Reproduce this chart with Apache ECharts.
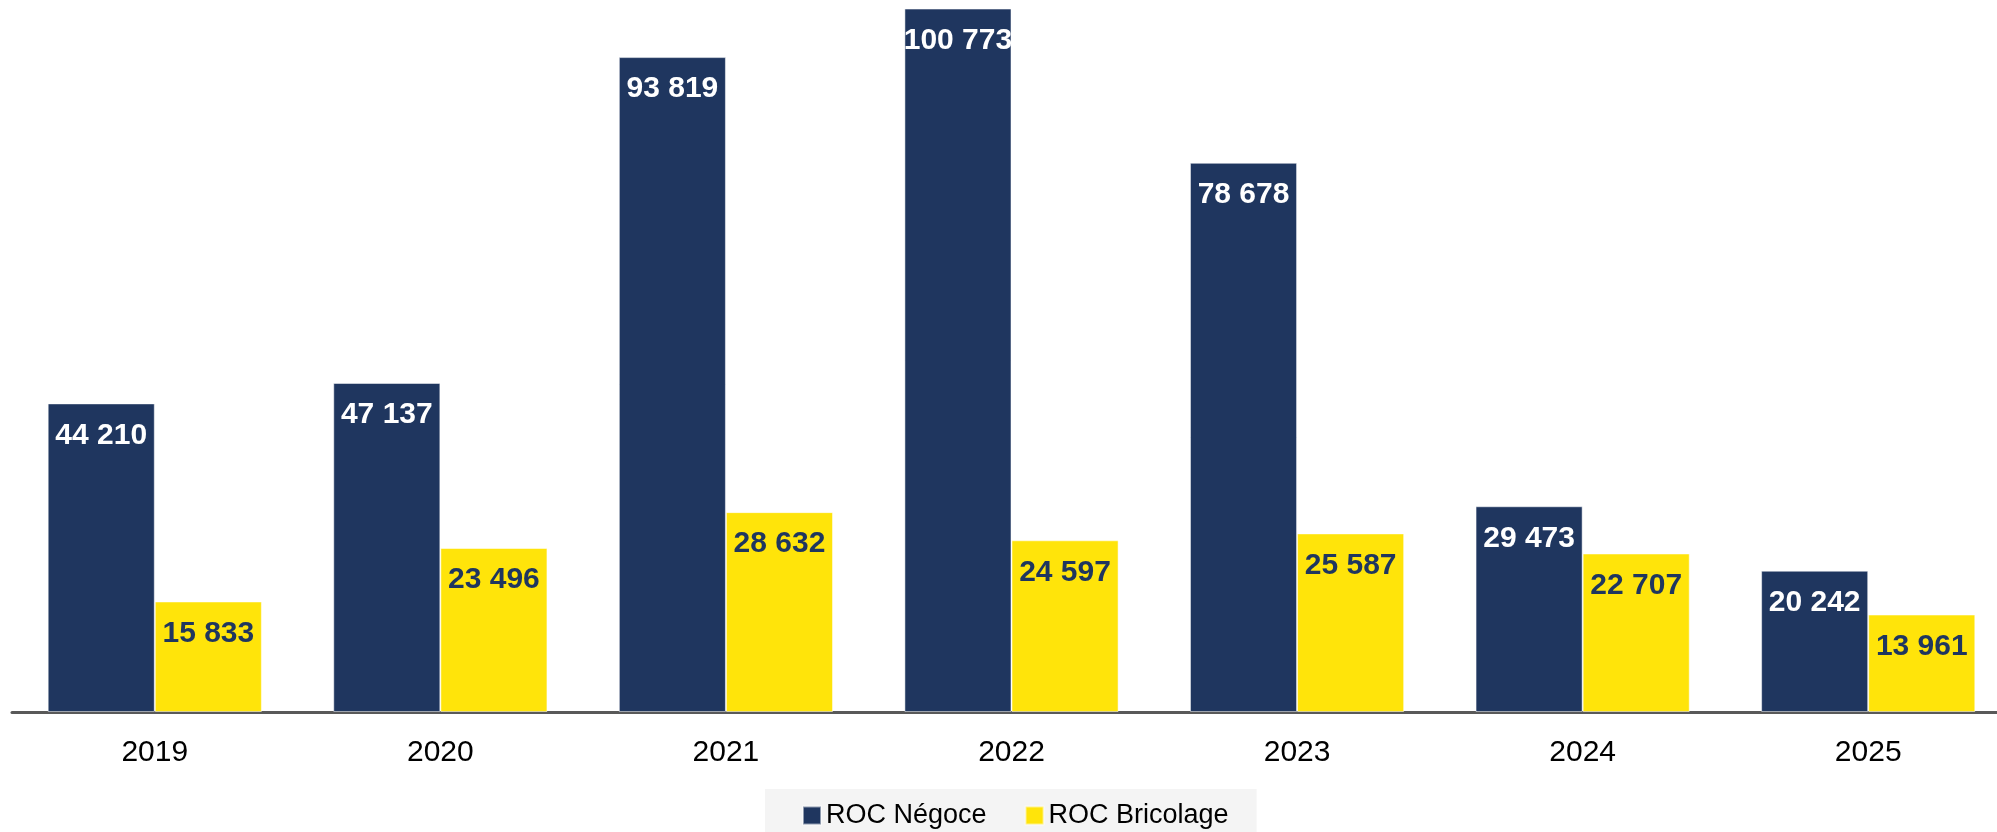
<!DOCTYPE html>
<html>
<head>
<meta charset="utf-8">
<script src="https://cdn.jsdelivr.net/npm/echarts@6/dist/echarts.min.js"></script>
<style>
html,body{margin:0;padding:0;background:#fff;}
#chart{width:1997px;height:832px;}
</style>
</head>
<body>
<div id="chart"></div>
<script>
const years = ['2019','2020','2021','2022','2023','2024','2025'];
const rocNegoce = [44210, 47137, 93819, 100773, 78678, 29473, 20242];
const rocBricolage = [15833, 23496, 28632, 24597, 25587, 22707, 13961];
const seriesNames = ['ROC Négoce', 'ROC Bricolage'];

const fmt = v => String(v).replace(/\B(?=(\d{3})+(?!\d))/g, ' ');
const FONT = '"Liberation Sans", Arial, sans-serif';

const chart = echarts.init(document.getElementById('chart'));
chart.setOption({
  backgroundColor: '#ffffff',
  animation: false,
  grid: { left: 12, width: 1999, top: 0, bottom: 120, containLabel: false, outerBoundsMode: 'none' },
  legend: {
    data: seriesNames,
    left: 765,
    top: 789,
    padding: [13, 28, 20, 37],
    backgroundColor: '#F4F4F4',
    itemWidth: 18,
    itemHeight: 18,
    itemGap: 38,
    icon: 'rect',
    textStyle: { fontFamily: FONT, fontSize: 27, color: '#000' }
  },
  xAxis: {
    type: 'category',
    data: years,
    axisTick: { show: false },
    axisLine: { lineStyle: { color: '#595959', width: 3 } },
    axisLabel: { fontFamily: FONT, fontSize: 30, color: '#000', margin: 26 }
  },
  yAxis: {
    type: 'value',
    min: 0,
    max: 102000,
    show: false,
    splitLine: { show: false }
  },
  series: [
    {
      name: seriesNames[0],
      type: 'bar',
      data: rocNegoce,
      barGap: '0%',
      barCategoryGap: '25%',
      itemStyle: { color: '#1F365F', borderColor: 'rgba(255,255,255,0.5)', borderWidth: 1 },
      label: {
        show: true, position: 'insideTop', distance: 17,
        formatter: p => fmt(p.value),
        fontFamily: FONT, fontSize: 30, fontWeight: 'bold', color: '#ffffff'
      }
    },
    {
      name: seriesNames[1],
      type: 'bar',
      data: rocBricolage,
      itemStyle: { color: '#FFE40A', borderColor: 'rgba(255,255,255,0.5)', borderWidth: 1 },
      label: {
        show: true, position: 'insideTop', distance: 17,
        formatter: p => fmt(p.value),
        fontFamily: FONT, fontSize: 30, fontWeight: 'bold', color: '#1F365F'
      }
    }
  ]
});
</script>
</body>
</html>
